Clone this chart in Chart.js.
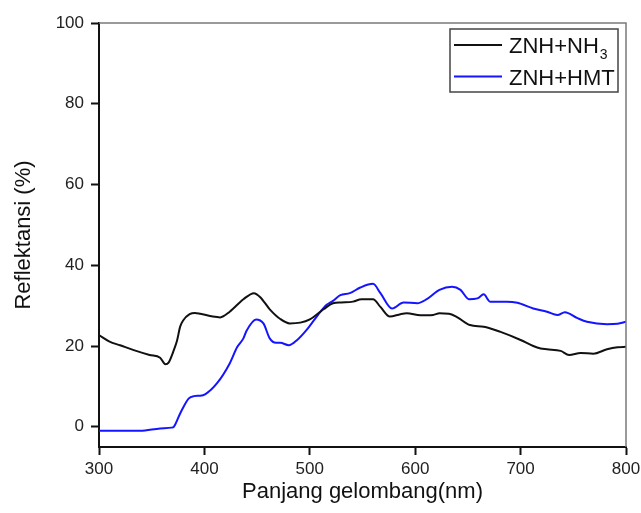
<!DOCTYPE html>
<html>
<head>
<meta charset="utf-8">
<script src="https://cdn.jsdelivr.net/npm/chart.js@4"></script>
<style>
  html, body { margin: 0; padding: 0; background: #fff; }
  #wrap { width: 641px; height: 513px; }
</style>
</head>
<body>
<div id="wrap"><canvas id="c" width="641" height="513"></canvas></div>
<script>
// ---- data ----
const seriesLabels = ['ZNH+NH\u2083', 'ZNH+HMT'];

const nh3Wavelength = [300, 310, 320, 333, 348, 358, 363, 366, 371, 374, 377, 380, 386, 391, 396, 408, 415, 424, 437, 447, 453, 462, 472, 481, 491, 500, 513, 522, 530, 541, 549, 560, 567, 576, 586, 592, 605, 617, 623, 632, 640, 652, 665, 681, 700, 712, 719, 725, 738, 746, 757, 769, 782, 792, 800];
const nh3Values     = [22.7, 21.1, 20.2, 19.0, 17.8, 17.1, 15.5, 15.9, 19.0, 21.3, 24.8, 26.4, 27.9, 28.2, 28.0, 27.3, 27.1, 28.5, 31.6, 33.1, 32.1, 29.1, 26.7, 25.6, 25.8, 26.6, 29.1, 30.6, 30.8, 31.0, 31.6, 31.6, 29.7, 27.3, 27.9, 28.1, 27.6, 27.7, 28.1, 28.0, 27.1, 25.2, 24.8, 23.5, 21.5, 20.0, 19.4, 19.2, 18.8, 17.8, 18.3, 18.1, 19.2, 19.7, 19.8];

const hmtWavelength = [300, 317, 339, 358, 369, 371, 377, 385, 390, 396, 401, 412, 424, 431, 437, 440, 449, 456, 462, 468, 472, 480, 488, 497, 504, 508, 516, 522, 529, 538, 548, 560, 567, 578, 589, 602, 611, 623, 635, 643, 651, 659, 665, 671, 687, 697, 712, 725, 735, 742, 754, 763, 782, 792, 800];
const hmtValues     = [-1.0, -1.0, -1.0, -0.4, -0.2, 0.0, 3.3, 7.0, 7.6, 7.7, 8.1, 10.8, 15.7, 19.7, 21.9, 23.8, 26.6, 25.6, 21.9, 20.8, 20.8, 20.2, 21.5, 24.0, 26.4, 27.8, 30.2, 31.2, 32.6, 33.1, 34.5, 35.4, 33.1, 29.3, 30.8, 30.6, 31.6, 33.9, 34.7, 33.9, 31.6, 31.8, 32.8, 31.0, 31.0, 30.7, 29.3, 28.5, 27.7, 28.4, 26.9, 26.0, 25.4, 25.5, 26.0];

const xTickValues = [300, 400, 500, 600, 700, 800];
const yTickValues = [0, 20, 40, 60, 80, 100];
const xRange = [300, 800];
const yRange = [-5, 100];

const xTitle = 'Panjang gelombang(nm)';
const yTitle = 'Reflektansi (%)';

// ---- build chart ----
const FONT = '"Liberation Sans", Arial, Helvetica, sans-serif';
const colors = ['#111111', '#1414ff'];

const toPoints = (xs, ys) => xs.map((x, i) => ({ x: x, y: ys[i] }));

const frameAndLegend = {
  id: 'frameAndLegend',
  afterDatasetsDraw(chart) {
    const ctx = chart.ctx;
    const a = chart.chartArea;
    ctx.save();
    // gray top/right frame
    ctx.strokeStyle = '#7a7a7a';
    ctx.lineWidth = 1.5;
    ctx.beginPath();
    ctx.moveTo(a.left, a.top);
    ctx.lineTo(a.right, a.top);
    ctx.lineTo(a.right, a.bottom);
    ctx.stroke();

    // legend box
    const bw = 168, bh = 63;
    const bx = a.right - 8 - bw, by = a.top + 6;
    ctx.fillStyle = '#fff';
    ctx.fillRect(bx, by, bw, bh);
    ctx.strokeStyle = '#444';
    ctx.lineWidth = 1.5;
    ctx.strokeRect(bx, by, bw, bh);

    const ds = chart.data.datasets;
    ds.forEach((d, i) => {
      const cy = by + 16 + i * 31.5;
      ctx.strokeStyle = d.borderColor;
      ctx.lineWidth = 2;
      ctx.beginPath();
      ctx.moveTo(bx + 4, cy);
      ctx.lineTo(bx + 52, cy);
      ctx.stroke();
      // text with subscript digits
      let tx = bx + 59;
      ctx.fillStyle = '#111';
      ctx.textBaseline = 'alphabetic';
      ctx.textAlign = 'left';
      const base = cy + 8;
      for (const ch of d.label) {
        const code = ch.charCodeAt(0);
        if (code >= 0x2080 && code <= 0x2089) {
          const digit = String.fromCharCode(code - 0x2080 + 48);
          ctx.font = '14px ' + FONT;
          ctx.fillText(digit, tx + 1, base + 6);
          tx += ctx.measureText(digit).width + 1;
        } else {
          ctx.font = '22px ' + FONT;
          ctx.fillText(ch, tx, base);
          tx += ctx.measureText(ch).width;
        }
      }
    });
    ctx.restore();
  }
};

new Chart(document.getElementById('c'), {
  type: 'line',
  data: {
    datasets: [
      { label: seriesLabels[0], data: toPoints(nh3Wavelength, nh3Values), borderColor: colors[0], borderWidth: 2, pointRadius: 0, cubicInterpolationMode: 'monotone', fill: false },
      { label: seriesLabels[1], data: toPoints(hmtWavelength, hmtValues), borderColor: colors[1], borderWidth: 2, pointRadius: 0, cubicInterpolationMode: 'monotone', fill: false }
    ]
  },
  options: {
    responsive: false,
    animation: false,
    devicePixelRatio: 1,
    layout: { padding: { left: 0, right: 15, top: 23, bottom: 0 } },
    plugins: { legend: { display: false }, tooltip: { enabled: false } },
    scales: {
      x: {
        type: 'linear',
        min: xRange[0], max: xRange[1],
        afterFit(s) { s.height = 66; s.paddingRight = 0; s.paddingLeft = 0; },
        afterBuildTicks(s) { s.ticks = xTickValues.map(v => ({ value: v })); },
        grid: { drawOnChartArea: false, drawTicks: true, tickLength: 8, tickColor: '#111', tickWidth: 2 },
        border: { display: true, color: '#111', width: 2 },
        ticks: { color: '#222', font: { family: FONT, size: 17 }, padding: 4, maxRotation: 0, autoSkip: false },
        title: { display: true, text: xTitle, color: '#111', font: { family: FONT, size: 22 }, padding: { top: 0, bottom: 8 } }
      },
      y: {
        type: 'linear',
        min: yRange[0], max: yRange[1],
        afterFit(s) { s.width = 99; s.paddingTop = 0; s.paddingBottom = 0; },
        afterBuildTicks(s) { s.ticks = yTickValues.map(v => ({ value: v })); },
        grid: { drawOnChartArea: false, drawTicks: true, tickLength: 8, tickColor: '#111', tickWidth: 2 },
        border: { display: true, color: '#111', width: 2 },
        ticks: { color: '#222', font: { family: FONT, size: 17 }, padding: 7, autoSkip: false },
        title: { display: true, text: yTitle, color: '#111', font: { family: FONT, size: 22 }, padding: { top: 11, bottom: 0 } }
      }
    }
  },
  plugins: [frameAndLegend]
});
</script>
</body>
</html>
